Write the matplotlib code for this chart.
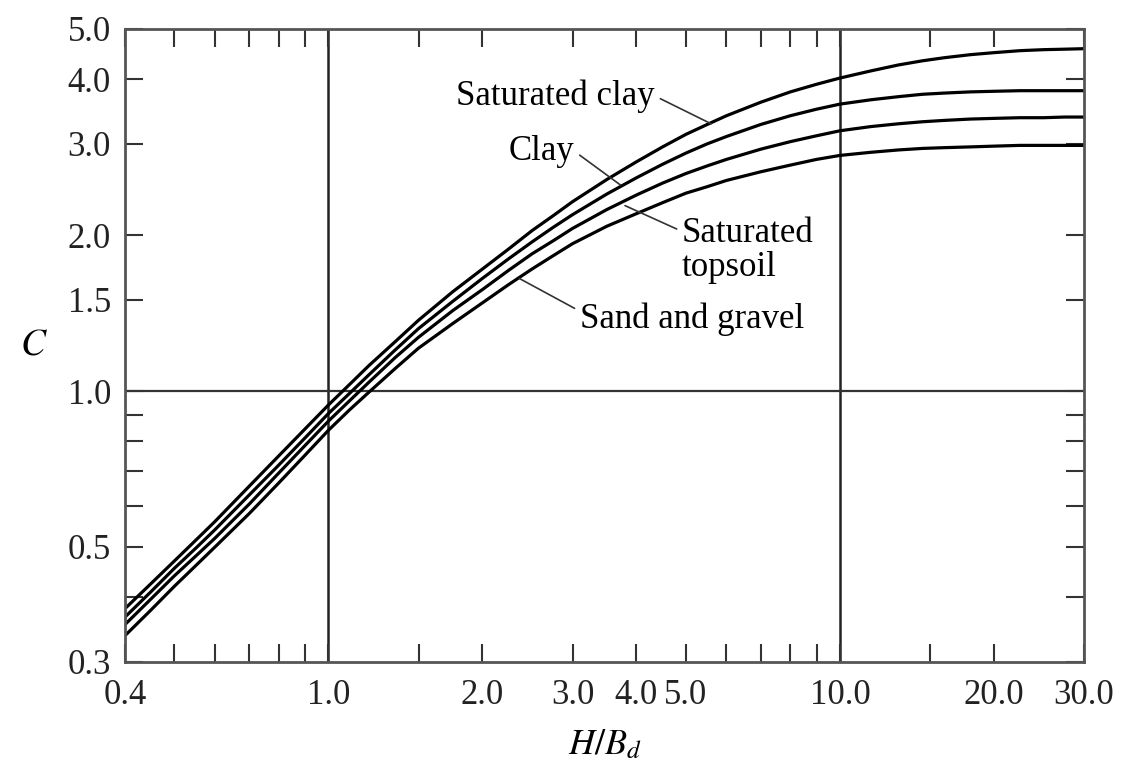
"""Plot load coefficient C against H/Bd for ditch conduits."""

import matplotlib.pyplot as plt
import matplotlib.ticker as mticker

ratio = [0.4, 0.45, 0.5, 0.55, 0.6, 0.7, 0.8, 0.9, 1.0, 1.1, 1.2, 1.35,
         1.5, 1.75, 2.0, 2.25, 2.5, 2.75, 3.0, 3.5, 4.0, 4.5, 5.0, 5.5,
         6.0, 7.0, 8.0, 9.0, 10.0, 11.5, 13.0, 14.5, 16.0, 18.0, 20.0,
         22.5, 25.0, 27.5, 30.0]

# load coefficient C for each soil
saturated_clay = [0.38, 0.425, 0.47, 0.515, 0.56, 0.655, 0.75, 0.845, 0.94,
                  1.03, 1.12, 1.245, 1.37, 1.555, 1.72, 1.88, 2.04, 2.18,
                  2.32, 2.56, 2.77, 2.96, 3.13, 3.27, 3.40, 3.61, 3.78,
                  3.91, 4.02, 4.15, 4.26, 4.34, 4.40, 4.46, 4.50, 4.54,
                  4.56, 4.57, 4.58]
clay = [0.366, 0.41, 0.455, 0.497, 0.54, 0.63, 0.72, 0.812, 0.905, 0.99,
        1.075, 1.20, 1.32, 1.49, 1.65, 1.80, 1.94, 2.07, 2.19, 2.40, 2.58,
        2.74, 2.88, 3.00, 3.10, 3.27, 3.40, 3.50, 3.58, 3.65, 3.70, 3.74,
        3.76, 3.78, 3.79, 3.80, 3.80, 3.80, 3.80]
saturated_topsoil = [0.354, 0.397, 0.44, 0.48, 0.52, 0.605, 0.695, 0.785,
                     0.875, 0.958, 1.04, 1.16, 1.27, 1.43, 1.57, 1.71, 1.84,
                     1.95, 2.06, 2.24, 2.39, 2.52, 2.63, 2.72, 2.80, 2.93,
                     3.03, 3.11, 3.18, 3.24, 3.28, 3.31, 3.33, 3.35, 3.36,
                     3.37, 3.37, 3.38, 3.38]
sand_and_gravel = [0.337, 0.378, 0.42, 0.46, 0.50, 0.58, 0.665, 0.752, 0.84,
                   0.92, 0.995, 1.105, 1.21, 1.35, 1.48, 1.605, 1.72, 1.825,
                   1.925, 2.08, 2.20, 2.31, 2.41, 2.48, 2.55, 2.65, 2.73,
                   2.80, 2.85, 2.89, 2.92, 2.94, 2.95, 2.96, 2.97, 2.98,
                   2.98, 2.98, 2.98]

# axis ticks
xticks = [0.4, 1.0, 2.0, 3.0, 4.0, 5.0, 10.0, 20.0, 30.0]
xlabels = ['0.4', '1.0', '2.0', '3.0', '4.0', '5.0', '10.0', '20.0', '30.0']
xminor = [0.5, 0.6, 0.7, 0.8, 0.9, 1.5, 6.0, 7.0, 8.0, 9.0, 15.0]
yticks = [0.3, 0.5, 1.0, 1.5, 2.0, 3.0, 4.0, 5.0]
ylabels = ['0.3', '0.5', '1.0', '1.5', '2.0', '3.0', '4.0', '5.0']
yminor = [0.4, 0.6, 0.7, 0.8, 0.9]


def main():
    """Main program called during execution."""

    plt.rcParams['font.family'] = ['Liberation Serif', 'DejaVu Serif']
    plt.rcParams['mathtext.fontset'] = 'stix'

    # initialize figure
    fig = plt.figure(figsize=(11.25, 7.76), dpi=100)
    ax = fig.add_axes([0.111, 0.147, 0.8526, 0.8157])

    # soil curves
    for values in (saturated_clay, clay, saturated_topsoil, sand_and_gravel):
        ax.plot(ratio, values, color='black', lw=2.3, solid_capstyle='butt')

    # reference lines
    for x in (1.0, 10.0):
        ax.axvline(x, color='#222222', lw=1.8, zorder=1)
    ax.axhline(1.0, color='#333333', lw=1.6, zorder=1)

    # log axes with hand-picked ticks
    ax.set_xscale('log')
    ax.set_yscale('log')
    ax.set_xlim(0.4, 30.0)
    ax.set_ylim(0.3, 5.0)
    ax.xaxis.set_major_locator(mticker.FixedLocator(xticks))
    ax.xaxis.set_major_formatter(mticker.FixedFormatter(xlabels))
    ax.xaxis.set_minor_locator(mticker.FixedLocator(xminor))
    ax.xaxis.set_minor_formatter(mticker.NullFormatter())
    ax.yaxis.set_major_locator(mticker.FixedLocator(yticks))
    ax.yaxis.set_major_formatter(mticker.FixedFormatter(ylabels))
    ax.yaxis.set_minor_locator(mticker.FixedLocator(yminor))
    ax.yaxis.set_minor_formatter(mticker.NullFormatter())
    ax.tick_params(which='both', direction='in', length=13, width=1.5,
                   color='#333333', top=True, right=True)
    ax.tick_params(axis='x', which='major', pad=12, labelsize=25,
                   labelcolor='#222222')
    ax.tick_params(axis='y', which='major', pad=10, labelsize=25,
                   labelcolor='#222222')
    for spine in ax.spines.values():
        spine.set_color('#555555')
        spine.set_linewidth(2.0)

    # axis labels
    ax.set_xlabel(r'$H/B_d$', fontsize=26, labelpad=12)
    ax.set_ylabel(r'$C$', fontsize=27, rotation=0, labelpad=24,
                  va='center')

    # curve labels with leader lines
    leader = dict(arrowstyle='-', color='#333333', lw=1.2,
                  shrinkA=2, shrinkB=0)
    ax.annotate('Saturated clay', xy=(5.6, 3.28), xytext=(4.35, 3.71),
                ha='right', va='center', fontsize=25,
                arrowprops=dict(leader, relpos=(1.0, 0.5)))
    ax.annotate('Clay', xy=(3.72, 2.50), xytext=(3.03, 2.90),
                ha='right', va='center', fontsize=25,
                arrowprops=dict(leader, relpos=(1.0, 0.5)))
    ax.annotate('Saturated\ntopsoil', xy=(3.80, 2.28), xytext=(4.91, 1.87),
                ha='left', va='center', fontsize=25, linespacing=1.05,
                arrowprops=dict(leader, relpos=(0.0, 0.78)))
    ax.annotate('Sand and gravel', xy=(2.36, 1.65), xytext=(3.10, 1.374),
                ha='left', va='center', fontsize=25,
                arrowprops=dict(leader, relpos=(0.0, 0.75)))

    # save figure
    fig.savefig('out.png', dpi=100)


if __name__ == '__main__':
    main()
